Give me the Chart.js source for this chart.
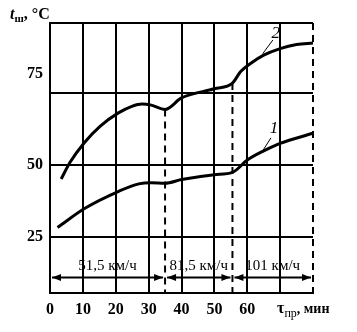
<!DOCTYPE html>
<html>
<head>
<meta charset="utf-8">
<script src="https://cdn.jsdelivr.net/npm/chart.js@4/dist/chart.umd.min.js"></script>
<style>
  body { margin: 0; background: #fff; }
  #wrap { width: 357px; height: 332px; }
</style>
</head>
<body>
<div id="wrap"><canvas id="chart"></canvas></div>
<script>
// Values (time, min / temperature, °C)
const time1 = [2.3, 10.5, 20.9, 27, 30.8, 35, 40, 50, 55.5, 60, 65, 70, 80];
const temp1 = [28.3, 34.9, 40.9, 43.5, 43.9, 43.7, 45, 46.7, 47.5, 51.8, 55, 57.6, 61.1];
const time2 = [3.4, 6.1, 10.5, 15.3, 20.8, 24.9, 28, 30.8, 35, 40, 50, 55.5, 58, 61, 65, 70, 75, 80];
const temp2 = [45.2, 51, 57.9, 63.6, 68.2, 70.5, 71.3, 70.9, 69.4, 73.4, 76.6, 78.6, 82.6, 85.4, 88.3, 90.6, 92, 92.5];

// speed stages
const speedBreaks = [0, 35, 55.5, 80];
const speedLabels = ['51,5 км/ч', '81,5 км/ч', '101 км/ч'];

// axes
const yTicks = [25, 50, 75];
const xTickLabels = ['0', '10', '20', '30', '40', '50', '60'];

const Y_MIN = 5.5, Y_MAX = 99.5;
const SERIF = '"Liberation Serif", "DejaVu Serif", serif';
const INK = '#000';

const toPoints = (xs, ys) => xs.map((x, i) => ({ x: x, y: ys[i] }));
const vline = (x, yTop) => [{ x: x, y: yTop }, { x: x, y: Y_MIN }];

const curveStyle = {
    borderColor: INK, borderWidth: 3, pointRadius: 0,
    cubicInterpolationMode: 'monotone', fill: false, clip: 6
};
const dashStyle = {
    borderColor: INK, borderWidth: 2, pointRadius: 0,
    borderDash: [7, 5], fill: false, clip: 6
};

// writes pieces of text one after another, returns the end x
function chain(ctx, x, parts) {
    parts.forEach(p => {
        ctx.font = p[1];
        ctx.fillText(p[0], x, p[2]);
        x += ctx.measureText(p[0]).width;
    });
    return x;
}

// annotations: arrows with speeds, curve numbers, axis titles
const annotations = {
    id: 'annotations',
    afterDatasetsDraw(chart) {
        const { ctx, scales: { x, y } } = chart;
        ctx.save();
        ctx.fillStyle = INK;
        ctx.strokeStyle = INK;

        // speed arrows
        const ay = y.getPixelForValue(10.9);
        const head = (px, dir) => {
            ctx.beginPath();
            ctx.moveTo(px, ay);
            ctx.lineTo(px - dir * 9, ay - 3.5);
            ctx.lineTo(px - dir * 9, ay + 3.5);
            ctx.closePath();
            ctx.fill();
        };
        ctx.lineWidth = 2;
        for (let i = 0; i < speedLabels.length; i++) {
            const x0 = x.getPixelForValue(speedBreaks[i]) + 2;
            const x1 = x.getPixelForValue(speedBreaks[i + 1]) - 2;
            ctx.beginPath();
            ctx.moveTo(x0, ay);
            ctx.lineTo(x1, ay);
            ctx.stroke();
            head(x0, -1);
            head(x1, 1);
            ctx.font = '15px ' + SERIF;
            ctx.textAlign = 'center';
            ctx.textBaseline = 'alphabetic';
            const mid = (speedBreaks[i] + speedBreaks[i + 1]) / 2;
            ctx.fillText(speedLabels[i], x.getPixelForValue(mid), y.getPixelForValue(13.6));
        }

        // curve numbers with leaders
        ctx.lineWidth = 1;
        ctx.font = 'italic 17px ' + SERIF;
        ctx.textAlign = 'center';
        ctx.textBaseline = 'middle';
        [['2', 68.7, 95.7, 67.8, 93.6, 64.7, 88.8], ['1', 68.1, 62.6, 67.2, 59.5, 64.7, 55]].forEach(a => {
            ctx.fillText(a[0], x.getPixelForValue(a[1]), y.getPixelForValue(a[2]));
            ctx.beginPath();
            ctx.moveTo(x.getPixelForValue(a[3]), y.getPixelForValue(a[4]));
            ctx.lineTo(x.getPixelForValue(a[5]), y.getPixelForValue(a[6]));
            ctx.stroke();
        });

        // axis titles
        ctx.textAlign = 'left';
        ctx.textBaseline = 'alphabetic';
        chain(ctx, 10, [
            ['t', 'italic bold 16px ' + SERIF, 19],
            ['ш', 'bold 11px ' + SERIF, 22],
            [', °C', 'bold 16px ' + SERIF, 19]
        ]);
        chain(ctx, 277, [
            ['τ', 'bold 16px ' + SERIF, 313],
            ['пр', '12px ' + SERIF, 317],
            [', мин', 'bold 14px ' + SERIF, 313]
        ]);
        ctx.restore();
    }
};

new Chart(document.getElementById('chart'), {
    type: 'line',
    data: {
        datasets: [
            { ...curveStyle, data: toPoints(time1, temp1) },
            { ...curveStyle, data: toPoints(time2, temp2) },
            { ...dashStyle, data: vline(speedBreaks[1], temp2[time2.indexOf(speedBreaks[1])]) },
            { ...dashStyle, data: vline(speedBreaks[2], temp2[time2.indexOf(speedBreaks[2])]) },
            { ...dashStyle, data: vline(speedBreaks[3], Y_MAX) }
        ]
    },
    options: {
        responsive: true,
        maintainAspectRatio: false,
        animation: false,
        events: [],
        layout: { padding: { top: 23, right: 44, left: 0, bottom: 0 } },
        plugins: { legend: { display: false }, tooltip: { enabled: false } },
        scales: {
            x: {
                type: 'linear', min: 0, max: 80,
                afterFit: s => { s.height = 39; },
                border: { color: INK, width: 2 },
                grid: {
                    drawTicks: false, lineWidth: 2,
                    color: c => (c.tick && c.tick.value === 80 ? 'rgba(0,0,0,0)' : INK)
                },
                ticks: {
                    stepSize: 10, padding: 7, color: INK, maxRotation: 0, autoSkip: false,
                    font: { family: SERIF, size: 16, weight: 'bold' },
                    callback: (v, i) => (xTickLabels[i] !== undefined ? xTickLabels[i] : '')
                }
            },
            y: {
                type: 'linear', min: Y_MIN, max: Y_MAX,
                afterFit: s => { s.width = 50; },
                afterBuildTicks: s => { s.ticks = yTicks.concat([Y_MAX]).map(v => ({ value: v })); },
                border: { color: INK, width: 2 },
                grid: { drawTicks: false, lineWidth: 2, color: INK },
                ticks: {
                    padding: 7, color: INK,
                    font: { family: SERIF, size: 16, weight: 'bold' },
                    callback: v => (v === 75 ? ['75', '', ''] : (yTicks.includes(v) ? String(v) : ''))
                }
            }
        }
    },
    plugins: [annotations]
});
</script>
</body>
</html>
